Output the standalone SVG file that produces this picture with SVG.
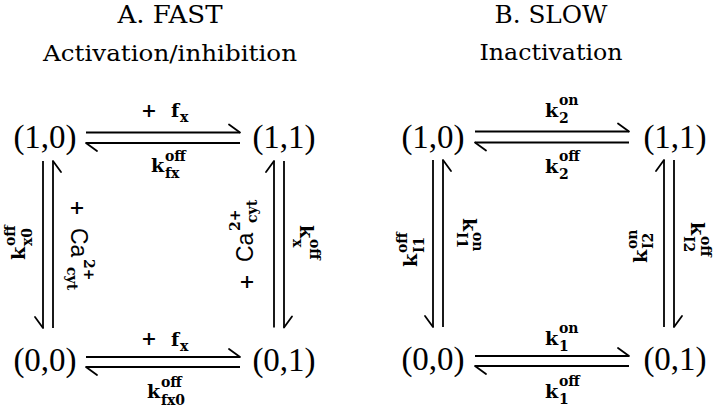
<svg xmlns="http://www.w3.org/2000/svg" width="720" height="411" viewBox="0 0 720 411">
<style>
.bg{fill:#fff}
.title{font-family:"DejaVu Serif",serif;text-anchor:middle;fill:#000}
.node{font-family:"Liberation Serif",serif;font-size:33px;text-anchor:middle;fill:#000}
.k{font-family:"DejaVu Serif",serif;font-weight:bold;font-size:19px;fill:#000}
.s{font-family:"DejaVu Serif",serif;font-weight:bold;font-size:14px;fill:#000}
.ca{font-family:"Liberation Sans",sans-serif;font-size:23px;fill:#000}
.ln{stroke:#000;stroke-width:1.8;fill:none}
.hl{marker-end:url(#hl)}
.hr{marker-end:url(#hr)}
</style>
<defs>
<marker id="hl" markerUnits="userSpaceOnUse" viewBox="-13 -10 14 20" refX="0" refY="0" markerWidth="14" markerHeight="20" orient="auto" overflow="visible">
<path d="M0,0 L-11,-8" stroke="#000" stroke-width="1.8" fill="none" stroke-linecap="round"/>
</marker>
<marker id="hr" markerUnits="userSpaceOnUse" viewBox="-13 -10 14 20" refX="0" refY="0" markerWidth="14" markerHeight="20" orient="auto" overflow="visible">
<path d="M0,0 L-11,8" stroke="#000" stroke-width="1.8" fill="none" stroke-linecap="round"/>
</marker>
</defs>
<rect class="bg" x="0" y="0" width="720" height="411"/>

<g id="titles">
<text class="title" x="170" y="23" font-size="25" textLength="105" lengthAdjust="spacingAndGlyphs">A. FAST</text>
<text class="title" x="170" y="61" font-size="22" textLength="254" lengthAdjust="spacingAndGlyphs">Activation/inhibition</text>
<text class="title" x="551" y="23" font-size="25" textLength="113" lengthAdjust="spacingAndGlyphs">B. SLOW</text>
<text class="title" x="551" y="60" font-size="22" textLength="143" lengthAdjust="spacingAndGlyphs">Inactivation</text>
</g>

<g id="nodeA10"><text class="node" x="45" y="148">(1,0)</text></g>
<g id="nodeA11"><text class="node" x="284" y="148">(1,1)</text></g>
<g id="nodeA00"><text class="node" x="45" y="371">(0,0)</text></g>
<g id="nodeA01"><text class="node" x="284" y="371">(0,1)</text></g>
<g id="nodeB10"><text class="node" x="433" y="148">(1,0)</text></g>
<g id="nodeB11"><text class="node" x="675" y="148">(1,1)</text></g>
<g id="nodeB00"><text class="node" x="433" y="370">(0,0)</text></g>
<g id="nodeB01"><text class="node" x="675" y="370">(0,1)</text></g>

<g id="connectors">
<path class="ln hl" d="M86,132.5 H240"/>
<path class="ln hl" d="M240,143 H86"/>
<path class="ln hl" d="M86,357 H240"/>
<path class="ln hl" d="M240,367 H86"/>
<path class="ln hr" d="M43,161 V328"/>
<path class="ln hr" d="M53,328 V161"/>
<path class="ln hl" d="M274,327.5 V161"/>
<path class="ln hl" d="M284,161 V327.5"/>

<path class="ln hl" d="M475,131.5 H629"/>
<path class="ln hl" d="M629,142.5 H475"/>
<path class="ln hl" d="M475,356 H629"/>
<path class="ln hl" d="M629,366 H475"/>
<path class="ln hr" d="M433,160 V327"/>
<path class="ln hr" d="M443,327 V160"/>
<path class="ln hl" d="M664,327 V160"/>
<path class="ln hl" d="M674,160 V327"/>
</g>

<g id="labelsA">
<text class="k" x="149" y="117" text-anchor="middle">+</text>
<text class="k" x="171" y="117">f</text>
<text class="s" x="180" y="122">x</text>

<text class="k" x="151" y="172">k</text>
<text class="s" x="165" y="161">off</text>
<text class="s" x="165" y="178">fx</text>

<text class="k" x="149" y="345" text-anchor="middle">+</text>
<text class="k" x="171" y="346">f</text>
<text class="s" x="180" y="351">x</text>

<text class="k" x="147" y="398">k</text>
<text class="s" x="161" y="387">off</text>
<text class="s" x="161" y="405">fx0</text>

<g transform="translate(25,260) rotate(-90)">
<text class="k" x="0" y="0">k</text>
<text class="s" x="14" y="-10">off</text>
<text class="s" x="14" y="7">x0</text>
</g>
<g transform="translate(71,200) rotate(90)">
<text class="k" x="0" y="0">+</text>
<text class="ca" x="28" y="0">Ca</text>
<text class="s" x="59" y="-13">2+</text>
<text class="s" x="67" y="4">cyt</text>
</g>
<g transform="translate(253,290) rotate(-90)">
<text class="k" x="0" y="0">+</text>
<text class="ca" x="28" y="0">Ca</text>
<text class="s" x="59" y="-13">2+</text>
<text class="s" x="67" y="4">cyt</text>
</g>
<g transform="translate(300,225) rotate(90)">
<text class="k" x="0" y="0">k</text>
<text class="s" x="14" y="-10">off</text>
<text class="s" x="14" y="7">x</text>
</g>
</g>

<g id="labelsB">
<text class="k" x="545" y="117">k</text>
<text class="s" x="559" y="105">on</text>
<text class="s" x="559" y="123">2</text>

<text class="k" x="545" y="173">k</text>
<text class="s" x="559" y="161">off</text>
<text class="s" x="559" y="179">2</text>

<text class="k" x="545" y="345">k</text>
<text class="s" x="559" y="333">on</text>
<text class="s" x="559" y="351">1</text>

<text class="k" x="545" y="398">k</text>
<text class="s" x="559" y="386">off</text>
<text class="s" x="559" y="404">1</text>

<g transform="translate(417,267) rotate(-90)">
<text class="k" x="0" y="0">k</text>
<text class="s" x="14" y="-10">off</text>
<text class="s" x="14" y="7">I1</text>
</g>
<g transform="translate(463,218) rotate(90)">
<text class="k" x="0" y="0">k</text>
<text class="s" x="14" y="-10">on</text>
<text class="s" x="14" y="6">I1</text>
</g>
<g transform="translate(647,263) rotate(-90)">
<text class="k" x="0" y="0">k</text>
<text class="s" x="14" y="-10">on</text>
<text class="s" x="14" y="6">I2</text>
</g>
<g transform="translate(691,222) rotate(90)">
<text class="k" x="0" y="0">k</text>
<text class="s" x="14" y="-10">off</text>
<text class="s" x="14" y="7">I2</text>
</g>
</g>
</svg>
